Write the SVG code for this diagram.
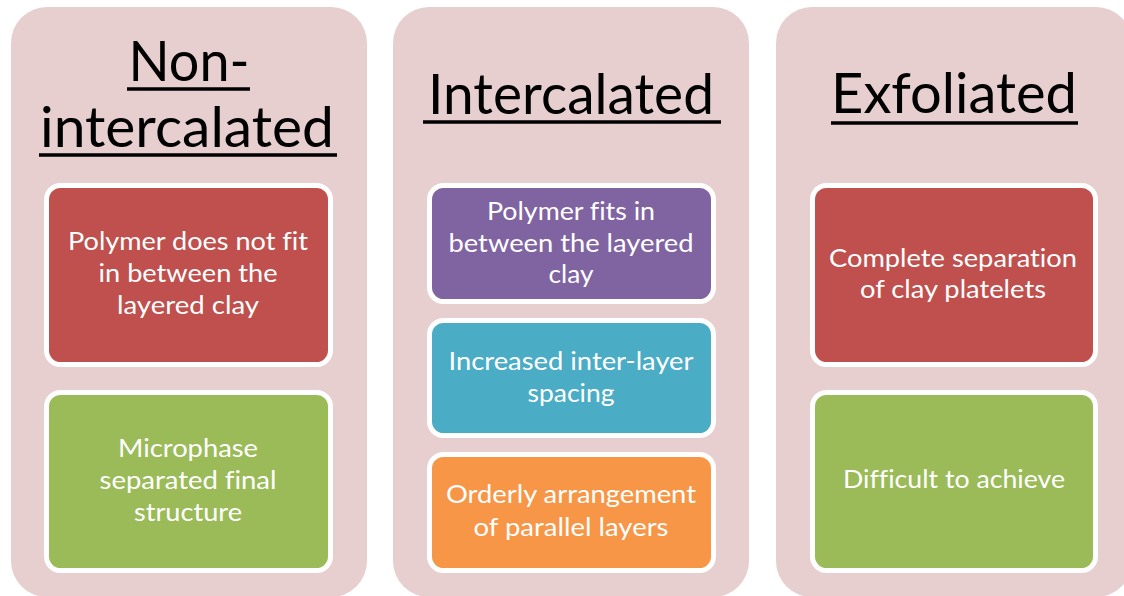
<svg xmlns="http://www.w3.org/2000/svg" width="1124" height="596" viewBox="0 0 1124 596">
<style>
.panel{fill:#E7CFD0}
.title{font-family:Lato,"Open Sans",sans-serif;font-size:56px;fill:#000;text-anchor:middle;font-variant-ligatures:none}
.ul{stroke:#000;stroke-width:3.5}
.box{stroke:#fff;stroke-width:5}
.red{fill:#C0504D}.green{fill:#9BBB59}.purple{fill:#8064A2}.teal{fill:#4BACC6}.orange{fill:#F79646}
.t{font-family:Lato,"Open Sans",sans-serif;font-size:25px;fill:#fff;text-anchor:middle;font-variant-ligatures:none;font-feature-settings:"liga" 0,"dlig" 0}
</style>
<rect width="1124" height="596" fill="#fff"/>
<g id="col-non">
<rect class="panel" x="11" y="7" width="356" height="590" rx="36"/>
<text class="title" x="189" y="81" textLength="121" lengthAdjust="spacingAndGlyphs">Non-</text>
<line class="ul" x1="127" y1="89" x2="250" y2="89"/>
<text class="title" x="187" y="147" textLength="294" lengthAdjust="spacingAndGlyphs">intercalated</text>
<line class="ul" x1="39" y1="155" x2="337" y2="155"/>
</g>
<g id="non-1">
<rect class="box red" x="46.5" y="185.5" width="284" height="179" rx="14"/>
<text class="t" x="188" y="250" textLength="240" lengthAdjust="spacingAndGlyphs">Polymer does not fit</text>
<text class="t" x="188" y="282" textLength="179" lengthAdjust="spacingAndGlyphs">in between the</text>
<text class="t" x="188" y="314" textLength="142" lengthAdjust="spacingAndGlyphs">layered clay</text>
</g>
<g id="non-2">
<rect class="box green" x="46.5" y="392.5" width="284" height="178" rx="14"/>
<text class="t" x="188" y="457" textLength="140" lengthAdjust="spacingAndGlyphs">Microphase</text>
<text class="t" x="188" y="489" textLength="177" lengthAdjust="spacingAndGlyphs">separated final</text>
<text class="t" x="188" y="521" textLength="108" lengthAdjust="spacingAndGlyphs">structure</text>
</g>
<g id="col-inter">
<rect class="panel" x="393" y="7" width="356" height="590" rx="36"/>
<text class="title" x="571" y="114" textLength="286" lengthAdjust="spacingAndGlyphs">Intercalated</text>
<line class="ul" x1="423" y1="122" x2="721" y2="122"/>
</g>
<g id="inter-1">
<rect class="box purple" x="429.5" y="185.5" width="284" height="116" rx="14"/>
<text class="t" x="571" y="220" textLength="168" lengthAdjust="spacingAndGlyphs">Polymer fits in</text>
<text class="t" x="571" y="252" textLength="245" lengthAdjust="spacingAndGlyphs">between the layered</text>
<text class="t" x="571" y="283" textLength="45" lengthAdjust="spacingAndGlyphs">clay</text>
</g>
<g id="inter-2">
<rect class="box teal" x="429.5" y="320.5" width="284" height="115" rx="14"/>
<text class="t" x="571" y="370" textLength="245" lengthAdjust="spacingAndGlyphs">Increased inter-layer</text>
<text class="t" x="571" y="402" textLength="87" lengthAdjust="spacingAndGlyphs">spacing</text>
</g>
<g id="inter-3">
<rect class="box orange" x="429.5" y="454.5" width="284" height="116" rx="14"/>
<text class="t" x="571" y="503" textLength="250" lengthAdjust="spacingAndGlyphs">Orderly arrangement</text>
<text class="t" x="571" y="536" textLength="195" lengthAdjust="spacingAndGlyphs">of parallel layers</text>
</g>
<g id="col-exf">
<rect class="panel" x="776" y="7" width="356" height="590" rx="36"/>
<text class="title" x="954" y="113" textLength="246" lengthAdjust="spacingAndGlyphs">Exfoliated</text>
<line class="ul" x1="831" y1="123" x2="1078" y2="123"/>
</g>
<g id="exf-1">
<rect class="box red" x="812.5" y="185.5" width="283" height="179" rx="14"/>
<text class="t" x="953" y="267" textLength="248" lengthAdjust="spacingAndGlyphs">Complete separation</text>
<text class="t" x="953" y="298" textLength="186" lengthAdjust="spacingAndGlyphs">of clay platelets</text>
</g>
<g id="exf-2">
<rect class="box green" x="812.5" y="392.5" width="283" height="178" rx="14"/>
<text class="t" x="954" y="488" textLength="222" lengthAdjust="spacingAndGlyphs">Difficult to achieve</text>
</g>
<g id="connectors"/>
</svg>
